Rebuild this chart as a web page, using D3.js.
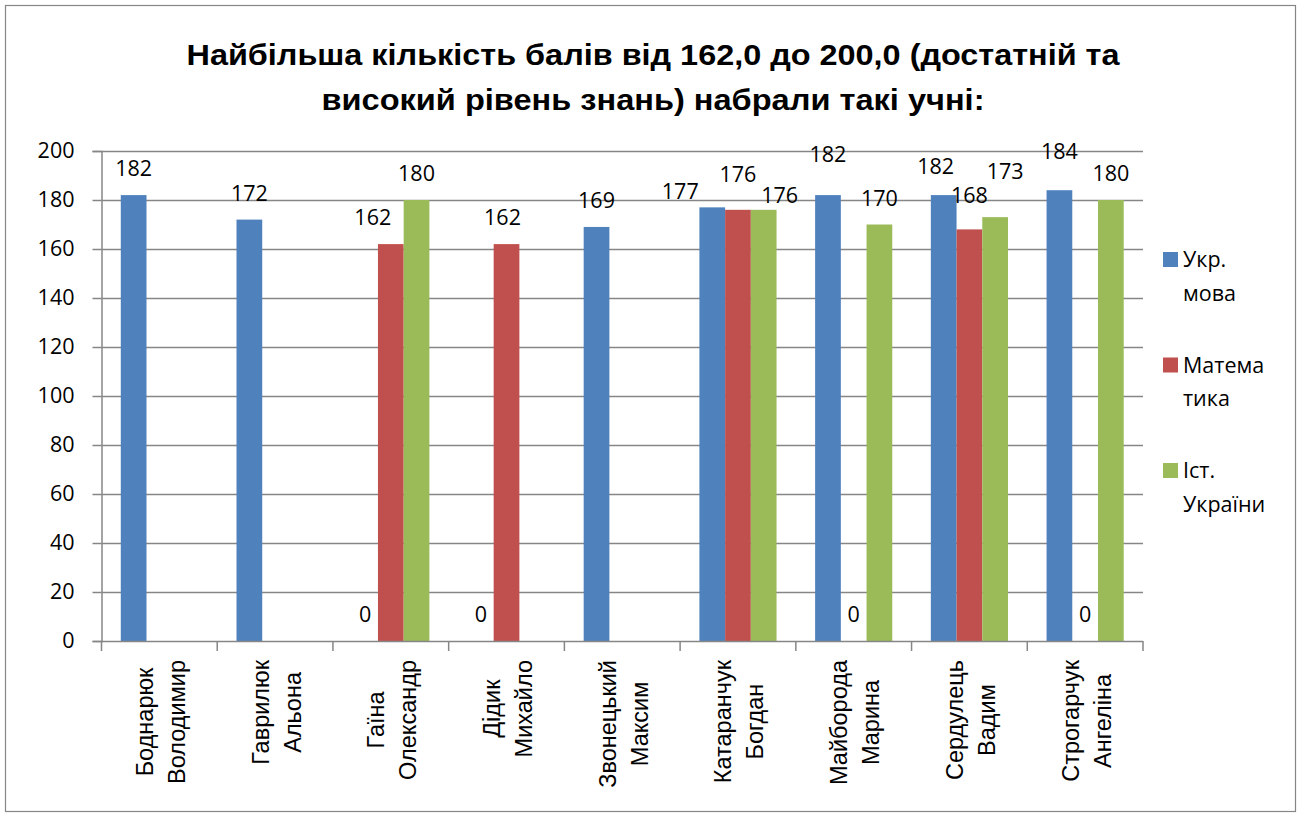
<!DOCTYPE html>
<html>
<head>
<meta charset="utf-8">
<script src="https://cdn.jsdelivr.net/npm/d3@7"></script>
<style>
  body { margin: 0; background: #fff; }
  svg text { font-family: "Open Sans", "Liberation Sans", Arial, sans-serif; fill: #000; }
  svg text.cat { font-family: "Liberation Sans", Arial, sans-serif; }
  svg text.title { font-family: "Liberation Sans", Arial, sans-serif; }
</style>
</head>
<body>
<div id="chart"></div>
<script>
"use strict";

// pupils (two lines each, as in the category axis)
var pupils = [
  ["Боднарюк", "Володимир"],
  ["Гаврилюк", "Альона"],
  ["Гаїна", "Олександр"],
  ["Дідик", "Михайло"],
  ["Звонецький", "Максим"],
  ["Катаранчук", "Богдан"],
  ["Майборода", "Марина"],
  ["Сердулець", "Вадим"],
  ["Строгарчук", "Ангеліна"]
];

// subjects, as wrapped in the legend
var subjects = ["Укр. мова", "Математика", "Іст. України"];
var legendLines = [["Укр.", "мова"], ["Матема", "тика"], ["Іст.", "України"]];
var colors = ["#4F81BD", "#C0504D", "#9BBB59"];

// scores (null = no value, no label)
var ukrMova = [182, 172, 0, 0, 169, 177, 182, 182, 184];
var matematyka = [null, null, 162, 162, null, 176, 0, 168, 0];
var istUkr = [null, null, 180, null, null, 176, 170, 173, 180];

var yTicks = [0, 20, 40, 60, 80, 100, 120, 140, 160, 180, 200];

var titleLines = [
  "Найбільша кількість балів від 162,0 до 200,0 (достатній та",
  "високий рівень знань) набрали такі учні:"
];

// hand-moved data labels in the original: "series:category" -> [dx, dy]
var labelNudge = {
  "1:2": [-18, 0],
  "1:3": [-4, 0],
  "0:5": [-32, 11],
  "1:5": [0, -9],
  "2:5": [16, 12],
  "0:6": [0, -14],
  "0:7": [-8, -2],
  "1:7": [0, -7],
  "2:7": [10, -19],
  "0:8": [0, -12]
};

var width = 1304, height = 816;
var plot = { left: 101.5, right: 1143, top: 151, bottom: 641 };
var grey = "#868686";

var series = [ukrMova, matematyka, istUkr];

var svg = d3.select("#chart").append("svg")
  .attr("width", width)
  .attr("height", height);

svg.append("rect")
  .attr("x", 5.5).attr("y", 5.5)
  .attr("width", 1290).attr("height", 806)
  .attr("fill", "#fff")
  .attr("stroke", grey)
  .attr("stroke-width", 1.2);

// title
svg.append("g").selectAll("text")
  .data(titleLines)
  .enter()
  .append("text")
  .attr("class", "title")
  .attr("x", 653)
  .attr("y", function (d, i) { return 65 + i * 45; })
  .attr("text-anchor", "middle")
  .attr("font-weight", "bold")
  .attr("font-size", 30)
  .attr("textLength", function (d, i) { return i === 0 ? 933 : 663; })
  .attr("lengthAdjust", "spacingAndGlyphs")
  .text(function (d) { return d; });

var x = d3.scaleBand()
  .domain(d3.range(pupils.length))
  .range([plot.left, plot.right]);

var xInner = d3.scaleBand()
  .domain(d3.range(subjects.length))
  .range([0, x.bandwidth()])
  .paddingInner(0)
  .paddingOuter(0.75);

var y = d3.scaleLinear()
  .domain([0, 200])
  .range([plot.bottom, plot.top]);

// gridlines
svg.append("g").selectAll("line")
  .data(yTicks.slice(1))
  .enter()
  .append("line")
  .attr("x1", plot.left)
  .attr("x2", plot.right)
  .attr("y1", function (d) { return Math.round(y(d)) + 0.5; })
  .attr("y2", function (d) { return Math.round(y(d)) + 0.5; })
  .attr("stroke", grey)
  .attr("stroke-width", 1.5);

// y axis
var yAxis = svg.append("g")
  .attr("transform", "translate(" + plot.left + ",0)")
  .call(d3.axisLeft(y).tickValues(yTicks).tickSize(9).tickPadding(18));
yAxis.select(".domain").attr("stroke", grey).attr("stroke-width", 1.5);
yAxis.selectAll(".tick line").attr("stroke", grey).attr("stroke-width", 1.5);
yAxis.selectAll(".tick text")
  .attr("font-family", "Open Sans, Liberation Sans, sans-serif")
  .attr("font-size", 21.5)
  .attr("fill", "#000");

// bars
var groups = svg.append("g").selectAll("g")
  .data(series)
  .enter()
  .append("g")
  .attr("fill", function (d, i) { return colors[i]; });

groups.selectAll("rect")
  .data(function (d, si) {
    return d.map(function (v, ci) { return { s: si, c: ci, v: v }; })
      .filter(function (e) { return e.v !== null; });
  })
  .enter()
  .append("rect")
  .attr("x", function (d) { return x(d.c) + xInner(d.s); })
  .attr("width", xInner.bandwidth())
  .attr("y", function (d) { return y(d.v); })
  .attr("height", function (d) { return y(0) - y(d.v); });

// x axis line and boundary ticks
svg.append("line")
  .attr("x1", plot.left).attr("x2", plot.right)
  .attr("y1", plot.bottom + 0.5).attr("y2", plot.bottom + 0.5)
  .attr("stroke", grey).attr("stroke-width", 1.5);

svg.append("g").selectAll("line")
  .data(d3.range(pupils.length + 1))
  .enter()
  .append("line")
  .attr("x1", function (i) { return plot.left + i * x.step(); })
  .attr("x2", function (i) { return plot.left + i * x.step(); })
  .attr("y1", plot.bottom)
  .attr("y2", plot.bottom + 10)
  .attr("stroke", grey)
  .attr("stroke-width", 1.5);

// data labels
groups.selectAll("text")
  .data(function (d, si) {
    return d.map(function (v, ci) { return { s: si, c: ci, v: v }; })
      .filter(function (e) { return e.v !== null; });
  })
  .enter()
  .append("text")
  .attr("text-anchor", "middle")
  .attr("font-size", 21.5)
  .attr("x", function (d) {
    var n = labelNudge[d.s + ":" + d.c] || [0, 0];
    return x(d.c) + xInner(d.s) + xInner.bandwidth() / 2 + n[0];
  })
  .attr("y", function (d) {
    var n = labelNudge[d.s + ":" + d.c] || [0, 0];
    return y(d.v) - 19 + n[1];
  })
  .text(function (d) { return d.v; });

// category labels, rotated
var cats = svg.append("g").selectAll("g")
  .data(pupils)
  .enter()
  .append("g")
  .attr("transform", function (d, i) {
    return "translate(" + (x(i) + x.bandwidth() / 2) + ",0) rotate(-90)";
  });

cats.each(function (lines) {
  var g = d3.select(this);
  var texts = g.selectAll("text")
    .data(lines)
    .enter()
    .append("text")
    .attr("class", "cat")
    .attr("text-anchor", "middle")
    .attr("font-size", 23.5)
    .attr("y", function (d, i) { return -6.5 + i * 32; })
    .text(function (d) { return d; });
  var maxLen = d3.max(texts.nodes(), function (n) { return n.getComputedTextLength(); });
  texts.attr("x", -(660 + maxLen / 2));
});

// legend
var legend = svg.append("g").selectAll("g")
  .data(legendLines)
  .enter()
  .append("g")
  .attr("transform", function (d, i) { return "translate(1163," + (252 + i * 105.5) + ")"; });

legend.append("rect")
  .attr("width", 15)
  .attr("height", 15)
  .attr("fill", function (d, i) { return colors[i]; });

legend.selectAll("text")
  .data(function (d) { return d; })
  .enter()
  .append("text")
  .attr("x", 20)
  .attr("y", function (d, i) { return 15 + i * 33.5; })
  .attr("font-size", 21.5)
  .text(function (d) { return d; });
</script>
</body>
</html>
